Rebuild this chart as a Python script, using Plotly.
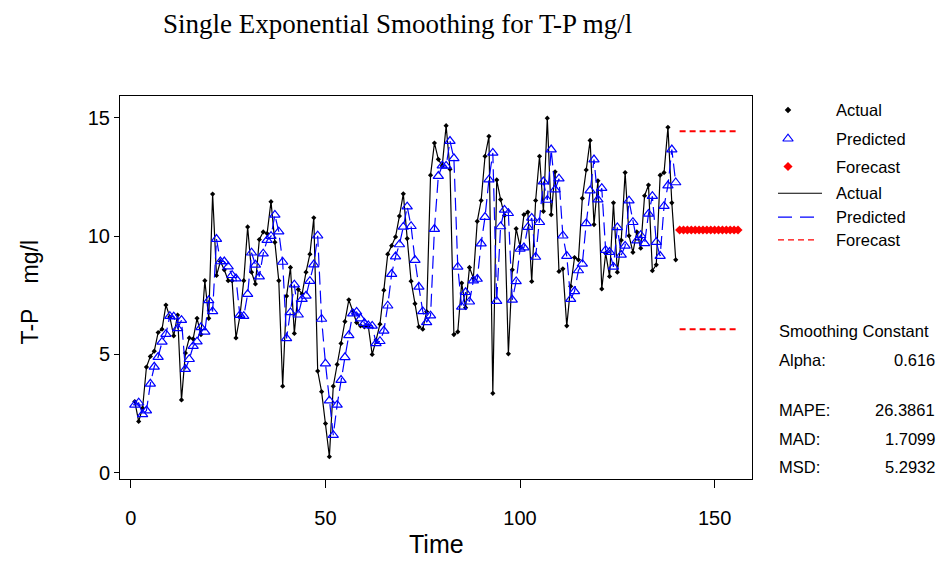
import plotly.graph_objects as go

W, H = 940, 562

time = list(range(1, 141))
actual = [3.01, 2.17, 2.73, 4.47, 4.92, 5.14, 5.93, 6.07, 7.09, 6.59,
          5.79, 6.67, 3.08, 5.06, 5.70, 5.66, 6.53, 5.84, 8.12, 6.53,
          11.78, 8.34, 8.93, 8.58, 8.12, 8.12, 5.70, 6.60, 8.12, 10.39,
          8.48, 7.98, 9.86, 10.18, 10.11, 11.46, 9.74, 8.12, 3.66, 7.47,
          8.68, 5.89, 7.75, 7.56, 8.48, 9.24, 10.78, 4.30, 3.43, 2.08,
          0.68, 3.66, 4.58, 5.47, 6.39, 7.31, 6.84, 6.35, 6.21, 6.17,
          6.20, 5.00, 5.61, 6.28, 7.72, 9.24, 9.60, 9.97, 10.85, 11.79,
          9.90, 8.10, 7.15, 6.17, 6.07, 6.81, 12.58, 13.94, 13.25, 12.97,
          14.67, 12.83, 5.84, 5.96, 8.02, 6.98, 8.68, 8.23, 10.63, 11.51,
          13.38, 14.22, 3.36, 12.38, 11.55, 10.88, 5.03, 8.58, 10.32, 9.56,
          10.91, 11.02, 8.09, 11.51, 13.38, 11.05, 14.99, 10.91, 12.72, 8.51,
          8.62, 6.21, 7.88, 9.10, 9.00, 11.60, 12.80, 14.05, 10.49, 12.34,
          7.77, 9.28, 8.30, 11.41, 8.48, 9.83, 12.69, 10.02, 9.32, 10.18,
          9.49, 11.71, 12.16, 8.54, 8.79, 12.58, 12.69, 14.60, 11.41, 9.00]
predicted = [2.87, 2.96, 2.47, 2.63, 3.76, 4.48, 4.89, 5.53, 5.86, 6.62,
             6.60, 6.10, 6.45, 4.38, 4.80, 5.35, 5.54, 6.15, 5.96, 7.29,
             6.82, 9.88, 8.93, 8.93, 8.71, 8.35, 8.21, 6.66, 6.62, 7.55,
             9.30, 8.79, 8.29, 9.26, 9.83, 10.00, 10.90, 10.19, 8.91, 5.68,
             6.78, 7.95, 6.68, 7.34, 7.48, 8.10, 8.80, 10.02, 6.50, 4.61,
             3.05, 1.59, 2.87, 3.92, 4.88, 5.81, 6.73, 6.80, 6.52, 6.33,
             6.23, 6.21, 5.47, 5.56, 6.00, 7.06, 8.40, 9.14, 9.65, 10.39,
             11.25, 10.42, 8.99, 7.86, 6.82, 6.36, 6.64, 10.30, 12.54, 12.98,
             12.97, 14.02, 13.29, 8.70, 7.01, 7.63, 7.23, 8.12, 8.19, 9.69,
             10.81, 12.39, 13.52, 7.26, 10.41, 11.11, 10.97, 7.31, 8.09, 9.46,
             9.52, 10.38, 10.77, 9.12, 10.59, 12.31, 11.53, 13.66, 11.97, 12.43,
             10.02, 9.16, 7.34, 7.67, 8.55, 8.83, 10.54, 11.93, 13.24, 11.55,
             12.03, 9.41, 9.33, 8.70, 10.37, 9.21, 9.59, 11.50, 10.59, 9.81,
             10.04, 9.70, 10.94, 11.69, 9.75, 9.16, 11.27, 12.14, 13.66, 12.27]
forecast_time = [141, 142, 143, 144, 145, 146, 147, 148, 149, 150, 151, 152, 153, 154, 155, 156]
forecast = [10.26, 10.26, 10.26, 10.26, 10.26, 10.26, 10.26, 10.26,
            10.26, 10.26, 10.26, 10.26, 10.26, 10.26, 10.26, 10.26]
upper = [14.44, 14.44, 14.44, 14.44, 14.44, 14.44, 14.44, 14.44,
         14.44, 14.44, 14.44, 14.44, 14.44, 14.44, 14.44, 14.44]
lower = [6.07, 6.07, 6.07, 6.07, 6.07, 6.07, 6.07, 6.07,
         6.07, 6.07, 6.07, 6.07, 6.07, 6.07, 6.07, 6.07]

x_ticks = [0, 50, 100, 150]
y_ticks = [0, 5, 10, 15]
legend_labels = ["Actual", "Predicted", "Forecast", "Actual", "Predicted", "Forecast"]
stats_labels = ["Alpha:", "MAPE:", "MAD:", "MSD:"]
stats_values = ["0.616", "26.3861", "1.7099", "5.2932"]

SANS = "Liberation Sans, Arial, sans-serif"
SERIF = "Liberation Serif, Times New Roman, serif"
BLUE = "#0000FF"
RED = "#FF0000"
PANEL_FS = 16.5


def px(x):
    return x / W


def py(y):
    return 1 - y / H


fig = go.Figure()

# Main series
fig.add_trace(go.Scatter(x=time, y=actual, mode="lines+markers",
                         line=dict(color="black", width=1.2),
                         marker=dict(symbol="diamond", size=4, color="black"),
                         showlegend=False))
fig.add_trace(go.Scatter(x=time, y=predicted, mode="lines+markers",
                         line=dict(color=BLUE, width=1.2, dash="13px,6px"),
                         marker=dict(symbol="triangle-up-open", size=9, color=BLUE,
                                     line=dict(width=1.2, color=BLUE)),
                         showlegend=False))
fig.add_trace(go.Scatter(x=forecast_time, y=upper, mode="lines",
                         line=dict(color=RED, width=2, dash="6px,4px"), showlegend=False))
fig.add_trace(go.Scatter(x=forecast_time, y=lower, mode="lines",
                         line=dict(color=RED, width=2, dash="6px,4px"), showlegend=False))
fig.add_trace(go.Scatter(x=forecast_time, y=forecast, mode="markers",
                         marker=dict(symbol="diamond", size=7, color=RED),
                         showlegend=False))

# Legend samples on a pixel-space overlay axis
leg_y = [111, 140, 168, 195, 219, 242]
fig.add_trace(go.Scatter(x=[788], y=[leg_y[0]], mode="markers", xaxis="x2", yaxis="y2",
                         marker=dict(symbol="diamond", size=5, color="black"), showlegend=False))
fig.add_trace(go.Scatter(x=[788], y=[leg_y[1]], mode="markers", xaxis="x2", yaxis="y2",
                         marker=dict(symbol="triangle-up-open", size=9, color=BLUE,
                                     line=dict(width=1.2, color=BLUE)), showlegend=False))
fig.add_trace(go.Scatter(x=[788], y=[leg_y[2]], mode="markers", xaxis="x2", yaxis="y2",
                         marker=dict(symbol="diamond", size=7, color=RED), showlegend=False))
fig.add_trace(go.Scatter(x=[778, 822], y=[leg_y[3], leg_y[3]], mode="lines", xaxis="x2", yaxis="y2",
                         line=dict(color="black", width=1.2), showlegend=False))
fig.add_trace(go.Scatter(x=[778, 815], y=[leg_y[4], leg_y[4]], mode="lines", xaxis="x2", yaxis="y2",
                         line=dict(color=BLUE, width=1.2, dash="14px,8px"), showlegend=False))
fig.add_trace(go.Scatter(x=[778, 818], y=[leg_y[5], leg_y[5]], mode="lines", xaxis="x2", yaxis="y2",
                         line=dict(color=RED, width=1.2, dash="6px,4px"), showlegend=False))

annotations = []
for lab, yy in zip(legend_labels, leg_y):
    annotations.append(dict(x=px(834), y=py(yy), xref="paper", yref="paper", text=lab,
                            showarrow=False, xanchor="left", yanchor="middle",
                            font=dict(family=SANS, size=PANEL_FS, color="black")))

annotations.append(dict(x=px(777), y=py(334), xref="paper", yref="paper", text="Smoothing Constant",
                        showarrow=False, xanchor="left", yanchor="middle",
                        font=dict(family=SANS, size=PANEL_FS, color="black")))
for lab, val, yy in zip(stats_labels, stats_values, [363, 414, 443, 471]):
    annotations.append(dict(x=px(777), y=py(yy), xref="paper", yref="paper", text=lab,
                            showarrow=False, xanchor="left", yanchor="middle",
                            font=dict(family=SANS, size=PANEL_FS, color="black")))
    annotations.append(dict(x=px(937), y=py(yy), xref="paper", yref="paper", text=val,
                            showarrow=False, xanchor="right", yanchor="middle",
                            font=dict(family=SANS, size=PANEL_FS, color="black")))

annotations.append(dict(x=px(397), y=py(24), xref="paper", yref="paper",
                        text="Single Exponential Smoothing for T-P mg/l",
                        showarrow=False, xanchor="center", yanchor="middle",
                        font=dict(family=SERIF, size=27, color="black")))
annotations.append(dict(x=px(436), y=py(549), xref="paper", yref="paper", text="Time",
                        showarrow=False, xanchor="center", yanchor="middle",
                        font=dict(family=SANS, size=25, color="black")))
annotations.append(dict(x=px(30), y=py(295), xref="paper", yref="paper", text="T-P    mg/l",
                        showarrow=False, xanchor="center", yanchor="middle", textangle=-90,
                        font=dict(family=SANS, size=23, color="black")))

fig.update_layout(
    width=W, height=H,
    margin=dict(l=0, r=0, t=0, b=0),
    paper_bgcolor="white", plot_bgcolor="white",
    showlegend=False,
    annotations=annotations,
    xaxis=dict(domain=[px(120), px(752)], range=[-2.8, 159.6], tickvals=x_ticks,
               ticks="outside", ticklen=8, tickcolor="black", showline=True, mirror=True,
               linecolor="black", linewidth=1, showgrid=False, zeroline=False,
               ticklabelstandoff=13,
               tickfont=dict(family=SANS, size=20, color="black")),
    yaxis=dict(domain=[py(483), py(97)], range=[-0.25, 15.92], tickvals=y_ticks,
               ticks="outside", ticklen=5, tickcolor="black", showline=True, mirror=True,
               linecolor="black", linewidth=1, showgrid=False, zeroline=False,
               tickfont=dict(family=SANS, size=20, color="black")),
    xaxis2=dict(domain=[px(752), 1], range=[752, 940], visible=False, anchor="y2"),
    yaxis2=dict(domain=[0, 1], range=[562, 0], visible=False, anchor="x2"),
)

fig.write_html("out.html")
